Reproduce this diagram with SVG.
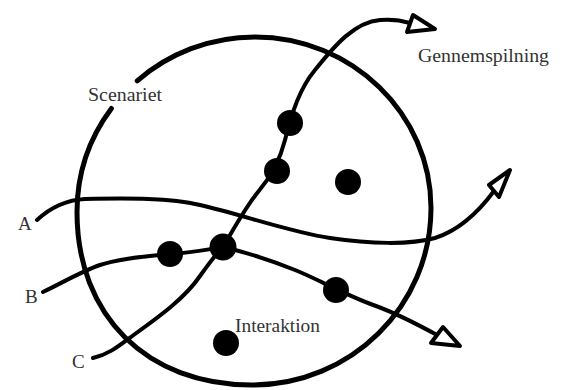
<svg xmlns="http://www.w3.org/2000/svg" width="563" height="390" viewBox="0 0 563 390">
  <style>
    .bg { fill: #ffffff; }
    .ring { fill: none; stroke: #000; stroke-width: 5; stroke-linecap: round; }
    .path { fill: none; stroke: #000; stroke-width: 4; stroke-linecap: round; stroke-linejoin: round; }
    .head { fill: #fff; stroke: #000; stroke-width: 4; stroke-linejoin: round; }
    .dot { fill: #000; }
    .lbl { font-family: "Liberation Serif", "Times New Roman", serif; font-size: 19px; fill: #333; }
  </style>
  <rect class="bg" x="0" y="0" width="563" height="390"/>

  <g id="scenariet">
    <path class="ring" d="M 137.2,80.8 C 168.7,53.5 209.9,37 255,37 C 352,37 431,114 431,208 C 431,306 351,385 252,385 C 147,385 77,316 77,212 C 77,173.2 89.8,137.4 111.4,108.5"/>
    <text class="lbl" x="88" y="101" textLength="74" lengthAdjust="spacingAndGlyphs">Scenariet</text>
  </g>

  <g id="connectors">
    <path id="path-A" class="path" d="M 37,220 C 50,208 65,200 85,199 C 130,198 170,198 200,205 C 240,214 290,232 330,238 C 370,244 410,245 435,238 C 460,230 480,210 494,191"/>
    <path id="path-B" class="path" d="M 43,292 C 60,284 80,272 100,265 C 125,257 150,256 170,254 C 190,253 205,250 223,247 C 245,252 270,260 295,270 C 320,280 345,295 376,306 C 395,313 415,323 437,335"/>
    <path id="path-C" class="path" d="M 93,358 C 110,354 120,345 135,334 C 160,316 185,298 200,276 C 210,262 218,252 223,247 C 232,232 245,208 258,192 C 270,178 280,160 285,140 C 292,112 300,88 315,70 C 335,45 355,22 380,20 C 392,19 400,20 410,23"/>
    <polygon class="head" points="413,15 407,32 435,29"/>
    <polygon class="head" points="510,170 489,185 499,197"/>
    <polygon class="head" points="443,327 431,343 460,346"/>
  </g>

  <g id="label-A"><text class="lbl" x="18" y="230">A</text></g>
  <g id="label-B"><text class="lbl" x="25" y="303">B</text></g>
  <g id="label-C"><text class="lbl" x="72" y="368">C</text></g>
  <g id="gennemspilning"><text class="lbl" x="418" y="62" textLength="131" lengthAdjust="spacingAndGlyphs">Gennemspilning</text></g>

  <g id="dot-c1"><circle class="dot" cx="290" cy="123" r="13"/></g>
  <g id="dot-c2"><circle class="dot" cx="277" cy="171" r="13"/></g>
  <g id="dot-free"><circle class="dot" cx="348" cy="182" r="13"/></g>
  <g id="dot-b1"><circle class="dot" cx="170" cy="254" r="13"/></g>
  <g id="dot-center"><circle class="dot" cx="223" cy="247" r="13.5"/></g>
  <g id="dot-b2"><circle class="dot" cx="336" cy="290" r="13"/></g>
  <g id="interaktion">
    <circle class="dot" cx="226" cy="343" r="13"/>
    <text class="lbl" x="235" y="332" textLength="85" lengthAdjust="spacingAndGlyphs">Interaktion</text>
  </g>
</svg>
